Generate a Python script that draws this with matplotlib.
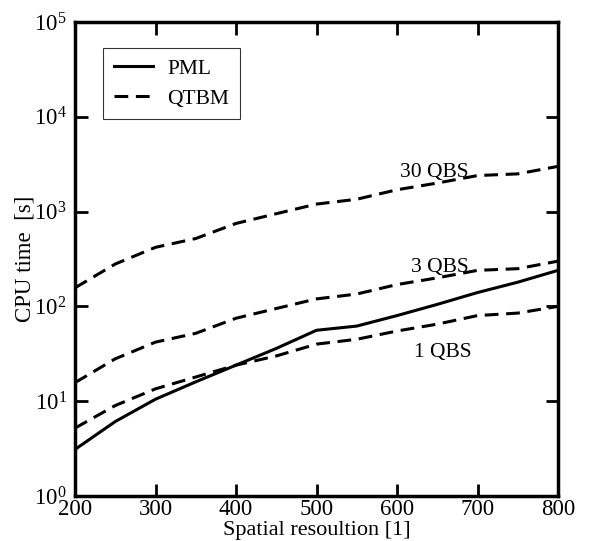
import matplotlib
matplotlib.use("Agg")
import matplotlib.pyplot as plt
from matplotlib.lines import Line2D

plt.rcParams["font.family"] = "Liberation Serif"
plt.rcParams["mathtext.fontset"] = "custom"
plt.rcParams["mathtext.rm"] = "Liberation Serif"
plt.rcParams["mathtext.it"] = "Liberation Serif:italic"

resolution = [200, 250, 300, 350, 400, 450, 500, 550, 600, 650, 700, 750, 800]
pml = [3.1, 6.1, 10.5, 16, 24, 36, 56, 62, 80, 105, 140, 180, 240]
qtbm_1 = [5.2, 9, 13.5, 18, 24, 30, 40, 45, 55, 65, 80, 85, 100]
qtbm_3 = [15.7, 28, 42, 52, 75, 95, 120, 135, 170, 200, 240, 250, 300]
qtbm_30 = [157, 280, 420, 520, 750, 950, 1200, 1350, 1700, 2000, 2400, 2500, 3000]

qbs_labels = ["30 QBS", "3 QBS", "1 QBS"]
qbs_label_x = [646, 653, 657]
qbs_label_y = [2570, 257, 33]

fig = plt.figure(figsize=(6.03, 5.41), dpi=100)
ax = fig.add_axes([75 / 603, 1 - 496 / 541, 483 / 603, 474 / 541])

dash = (0, (4.5, 2.5))
ax.plot(resolution, pml, color="black", lw=2.2)
for series in (qtbm_1, qtbm_3, qtbm_30):
    ax.plot(resolution, series, color="black", lw=2.2, linestyle=dash)

for txt, x, y in zip(qbs_labels, qbs_label_x, qbs_label_y):
    ax.text(x, y, txt, ha="center", va="center", fontsize=15.5)

ax.set_yscale("log")
ax.set_xlim(200, 800)
ax.set_ylim(1, 1e5)
ax.set_xticks(range(200, 801, 100))
ax.set_yticks([1, 10, 100, 1e3, 1e4, 1e5])
ax.minorticks_off()
ax.tick_params(direction="in", length=9, width=2, labelsize=16.5,
               top=True, right=True, pad=2)
ax.tick_params(axis="y", pad=6)
for s in ax.spines.values():
    s.set_linewidth(2.5)

ax.set_xlabel("Spatial resoultion [1]", fontsize=16, labelpad=1)
ax.set_ylabel("CPU time  [s]", fontsize=16.5, labelpad=-1)

handles = [Line2D([], [], color="black", lw=2.2),
           Line2D([], [], color="black", lw=2.2, linestyle=dash)]
leg = ax.legend(handles, ["PML", "QTBM"], loc="upper left",
                bbox_to_anchor=(0.058, 0.945), fontsize=15.5, frameon=True,
                fancybox=False, handlelength=1.8, borderpad=0.5,
                labelspacing=0.45, handletextpad=0.7, borderaxespad=0)
leg.get_frame().set_edgecolor("black")
leg.get_frame().set_linewidth(0.8)

fig.savefig("out.png", dpi=100)
